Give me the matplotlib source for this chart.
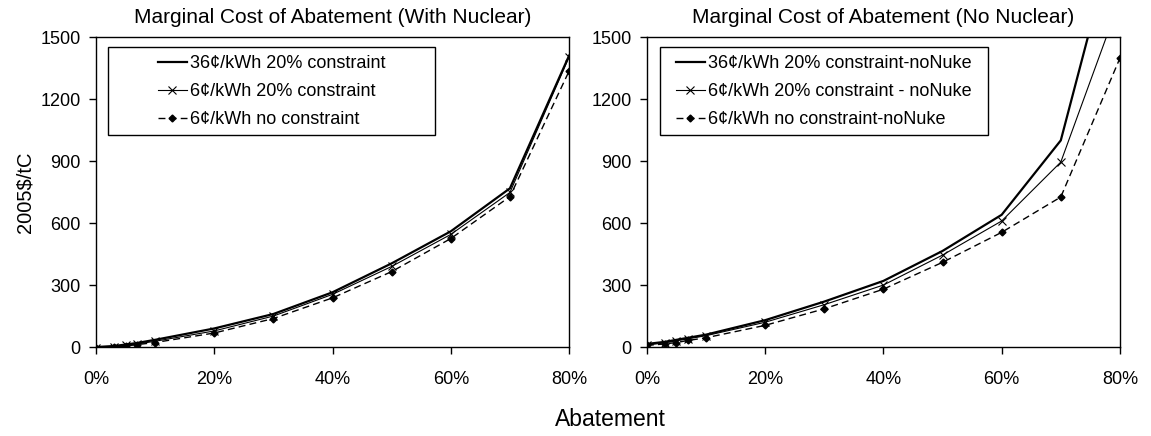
import matplotlib
matplotlib.use('Agg')
import matplotlib.pyplot as plt
import matplotlib.ticker as ticker
from matplotlib.patches import Rectangle

plt.rcParams['font.family'] = ['Liberation Sans', 'DejaVu Sans']

# abatement levels
x = [0.0, 0.03, 0.05, 0.07, 0.10, 0.20, 0.30, 0.40, 0.50, 0.60, 0.70, 0.80]

# with nuclear
nuc_36_con = [0, 5, 12, 20, 35, 90, 160, 265, 405, 560, 768, 1410]
nuc_6_con = [-3, 2, 8, 15, 28, 78, 150, 255, 390, 545, 748, 1403]
nuc_6_nocon = [-5, 0, 5, 12, 22, 68, 138, 238, 365, 525, 728, 1335]

# no nuclear
nonuc_36_con = [15, 25, 35, 45, 60, 130, 220, 320, 465, 640, 1000, 2090]
nonuc_6_con = [10, 20, 30, 40, 55, 120, 205, 300, 445, 610, 895, 1680]
nonuc_6_nocon = [8, 15, 22, 32, 45, 105, 185, 280, 410, 555, 726, 1398]

labels_nuc = ['36¢/kWh 20% constraint', '6¢/kWh 20% constraint', '6¢/kWh no constraint']
labels_nonuc = ['36¢/kWh 20% constraint-noNuke', '6¢/kWh 20% constraint - noNuke',
                '6¢/kWh no constraint-noNuke']

fig = plt.figure(figsize=(11.51, 4.36), dpi=100)
ax1 = fig.add_axes([0.0834, 0.204, 0.411, 0.711])
ax2 = fig.add_axes([0.562, 0.204, 0.411, 0.711])


def draw(ax, s1, s2, s3, labels, title, box_x0, box_x1, leg_x):
    ax.plot(x, s1, color='black', lw=1.6, label=labels[0])
    ax.plot(x, s2, color='black', lw=0.8, marker='x', ms=6, mew=0.8, label=labels[1])
    ax.plot(x, s3, color='black', lw=1.0, ls=(0, (5, 3)), marker='D', ms=3.5,
            label=labels[2])
    ax.set_xlim(0, 0.8)
    ax.set_ylim(0, 1500)
    ax.set_yticks(range(0, 1501, 300))
    ax.set_xticks([0, 0.2, 0.4, 0.6, 0.8])
    ax.xaxis.set_major_formatter(ticker.FuncFormatter(lambda v, p: '%d%%' % round(v * 100)))
    ax.tick_params(direction='out', length=5, width=1, labelsize=13, pad=6)
    ax.tick_params(axis='x', pad=12)
    for s in ax.spines.values():
        s.set_linewidth(1)
    ax.set_title(title, fontsize=15, pad=10)
    # legend box drawn separately (wide left padding in the original)
    ax.add_patch(Rectangle((box_x0, 0.684), box_x1 - box_x0, 0.284, transform=ax.transAxes,
                           facecolor='white', edgecolor='black', lw=1, zorder=4))
    leg = ax.legend(loc='upper left', bbox_to_anchor=(leg_x, 0.942), fontsize=13,
                    frameon=False, handlelength=1.6, handletextpad=0.2,
                    labelspacing=0.62, borderpad=0, borderaxespad=0)
    leg.set_zorder(5)


draw(ax1, nuc_36_con, nuc_6_con, nuc_6_nocon, labels_nuc,
     'Marginal Cost of Abatement (With Nuclear)', 0.0254, 0.717, 0.131)
draw(ax2, nonuc_36_con, nonuc_6_con, nonuc_6_nocon, labels_nonuc,
     'Marginal Cost of Abatement (No Nuclear)', 0.0275, 0.721, 0.061)

ax1.set_ylabel('2005$/tC', fontsize=14.5, labelpad=4)
fig.text(0.53, 0.022, 'Abatement', ha='center', fontsize=16.5)

fig.savefig('out.png', dpi=100)
